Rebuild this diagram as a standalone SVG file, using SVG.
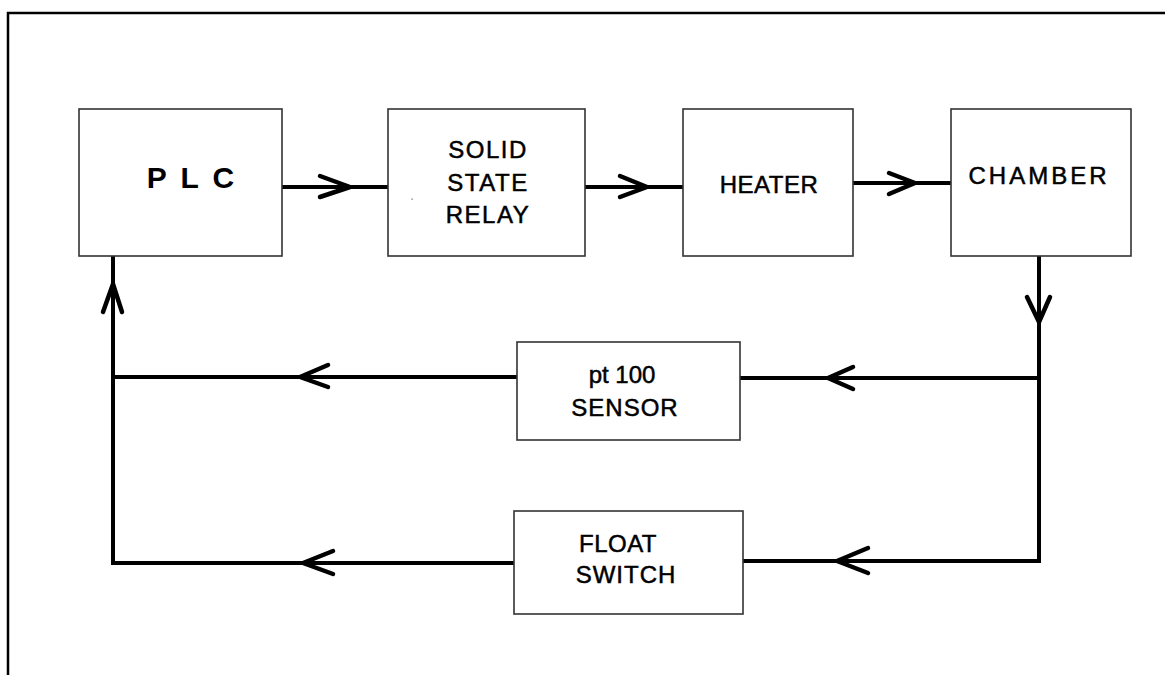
<svg xmlns="http://www.w3.org/2000/svg" width="1165" height="675" viewBox="0 0 1165 675">
<style>
.box{fill:#fff;stroke:#333;stroke-width:1.6}
.wire{fill:none;stroke:#000;stroke-width:4;stroke-linecap:square;stroke-linejoin:miter}
.head{fill:none;stroke:#000;stroke-width:4.5;stroke-linecap:round;stroke-linejoin:round}
.lbl{font-family:"Liberation Sans",Arial,sans-serif;font-size:24px;fill:#000;stroke:#000;stroke-width:0.5;text-anchor:middle}
.plc{font-family:"Liberation Sans",Arial,sans-serif;font-size:30px;font-weight:bold;fill:#000;text-anchor:middle;letter-spacing:3px}
.frame{fill:none;stroke:#000;stroke-width:2.5}
</style>
<rect width="1165" height="675" fill="#fff"/>
<path class="frame" d="M8,675 V13 H1165"/>
<g id="connectors">
  <path class="wire" d="M284,187 H388"/>
  <path class="head" d="M320,176 L350,187 L320,197"/>
  <path class="wire" d="M585,187 H683"/>
  <path class="head" d="M620,176 L647,187 L620,197"/>
  <path class="wire" d="M853,183 H951"/>
  <path class="head" d="M889,173 L915,183 L889,194"/>
  <path class="wire" d="M1039,256 V561"/>
  <path class="head" d="M1027,297 L1039,322 L1050,297"/>
  <path class="wire" d="M1039,378 H740"/>
  <path class="head" d="M853,367 L828,378 L853,389"/>
  <path class="wire" d="M1039,561 H743"/>
  <path class="head" d="M868,548 L837,561 L868,573"/>
  <path class="wire" d="M517,377 H113"/>
  <path class="head" d="M328,365 L300,377 L328,387"/>
  <path class="wire" d="M514,563 H113 V257"/>
  <path class="head" d="M333,551 L303,563 L333,574"/>
  <path class="head" d="M103,312 L113,284 L122,312"/>
</g>
<g id="plc">
  <rect class="box" x="79" y="109" width="203" height="147"/>
  <text class="plc" x="192" y="188">P L C</text>
</g>
<g id="ssr">
  <rect class="box" x="388" y="109" width="197" height="147"/>
  <text class="lbl" x="488" y="158" letter-spacing="1.5">SOLID</text>
  <text class="lbl" x="488" y="191" letter-spacing="1.5">STATE</text>
  <text class="lbl" x="488" y="223" letter-spacing="1.5">RELAY</text>
  <rect x="411.5" y="198.5" width="1.2" height="1.2" fill="#555"/>
</g>
<g id="heater">
  <rect class="box" x="683" y="109" width="170" height="147"/>
  <text class="lbl" x="769" y="193" letter-spacing="0.5">HEATER</text>
</g>
<g id="chamber">
  <rect class="box" x="951" y="109" width="180" height="147"/>
  <text class="lbl" x="1039" y="184" letter-spacing="3">CHAMBER</text>
</g>
<g id="pt100">
  <rect class="box" x="517" y="342" width="223" height="98"/>
  <text class="lbl" x="622" y="383">pt 100</text>
  <text class="lbl" x="625" y="416" letter-spacing="1">SENSOR</text>
</g>
<g id="float">
  <rect class="box" x="514" y="511" width="229" height="103"/>
  <text class="lbl" x="618" y="552" letter-spacing="0.5">FLOAT</text>
  <text class="lbl" x="626" y="583" letter-spacing="1">SWITCH</text>
</g>
</svg>
